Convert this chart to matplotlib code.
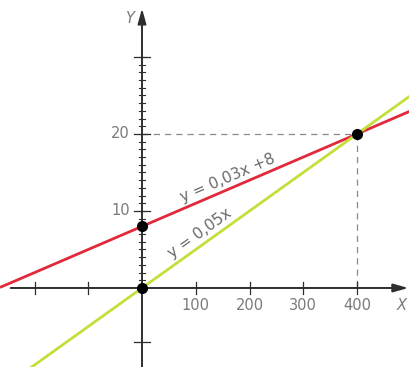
import numpy as np
import matplotlib
matplotlib.use("Agg")
import matplotlib.pyplot as plt

# Two linear functions and their intersection
slopes = [0.03, 0.05]
intercepts = [8, 0]
line_labels = ["y = 0,03x +8", "y = 0,05x"]
line_colors = ["#e02a3c", "#c5df3a"]

points_x = [0, 0, 400]
points_y = [8, 0, 20]

x_ticks = [-200, -100, 100, 200, 300, 400]
x_tick_labels = ["", "", "100", "200", "300", "400"]
y_major = [-7, 10, 20, 30]
y_major_labels = ["", "10", "20", ""]
y_minor = list(range(0, 31))

xmin, xmax = -264.2, 498.6
ymin, ymax = -10.26, 37.4

plt.rcParams["font.family"] = ["DejaVu Sans"]

fig = plt.figure(figsize=(4.1, 3.67), dpi=100)
ax = fig.add_axes([0, 0, 1, 1])
ax.set_xlim(xmin, xmax)
ax.set_ylim(ymin, ymax)
ax.axis("off")

axis_col = "#2e2e2e"
text_col = "#7a7a7a"

# axes with arrows
ax.annotate("", xy=(xmax - 3, 0), xytext=(xmin + 20, 0),
            arrowprops=dict(arrowstyle="-|>,head_length=0.9,head_width=0.25",
                            color=axis_col, lw=1.4, shrinkA=0, shrinkB=0), zorder=3)
ax.annotate("", xy=(0, ymax - 1.1), xytext=(0, ymin),
            arrowprops=dict(arrowstyle="-|>,head_length=0.9,head_width=0.25",
                            color=axis_col, lw=1.4, shrinkA=0, shrinkB=0), zorder=3)

# pixel-based tick sizes converted to data units
px_x = (xmax - xmin) / 410.0
px_y = (ymax - ymin) / 367.0

for xv, lab in zip(x_ticks, x_tick_labels):
    ax.plot([xv, xv], [-6 * px_y, 6 * px_y], color=axis_col, lw=0.9, zorder=3)
    if lab:
        ax.text(xv, -10 * px_y, lab, ha="center", va="top", fontsize=10.5, color=text_col)

for yv in y_minor:
    ax.plot([-3 * px_x, 3 * px_x], [yv, yv], color=axis_col, lw=0.8, zorder=3)
for yv, lab in zip(y_major, y_major_labels):
    ax.plot([-8 * px_x, 8 * px_x], [yv, yv], color=axis_col, lw=0.9, zorder=3)
    if lab:
        ax.text(-12 * px_x, yv, lab, ha="right", va="center", fontsize=10.5, color=text_col)

ax.text(-12 * px_x, ymax - 19 * px_y, "Y", ha="center", va="center",
        fontsize=10.5, color=text_col, style="italic")
ax.text(xmax - 8 * px_x, -18 * px_y, "X", ha="center", va="center",
        fontsize=10.5, color=text_col, style="italic")

# guide lines to the intersection
ax.plot([0, points_x[2]], [points_y[2], points_y[2]], color="#8a8a8a", lw=0.9,
        dashes=(5, 4), zorder=2)
ax.plot([points_x[2], points_x[2]], [points_y[2], 0], color="#8a8a8a", lw=0.9,
        dashes=(5, 4), zorder=2)

# the two lines
xs = np.array([xmin, xmax])
for m, b, c in zip(slopes, intercepts, line_colors):
    ax.plot(xs, m * xs + b, color=c, lw=2.0, zorder=4, solid_capstyle="butt")

ax.plot(points_x, points_y, "o", color="black", ms=7, zorder=5)

# labels along the lines
label_x = [165, 115]
label_off = [3, 4]
for m, b, lab, lx, off in zip(slopes, intercepts, line_labels, label_x, label_off):
    p0 = ax.transData.transform((0, b))
    p1 = ax.transData.transform((100, 100 * m + b))
    ang = np.degrees(np.arctan2(p1[1] - p0[1], p1[0] - p0[0]))
    ly = m * lx + b + off * px_y
    ax.text(lx, ly, lab, rotation=ang, rotation_mode="anchor", ha="center",
            va="bottom", fontsize=11, color="#6a6a6a", zorder=6)

fig.savefig("out.png", dpi=100, facecolor="white")
